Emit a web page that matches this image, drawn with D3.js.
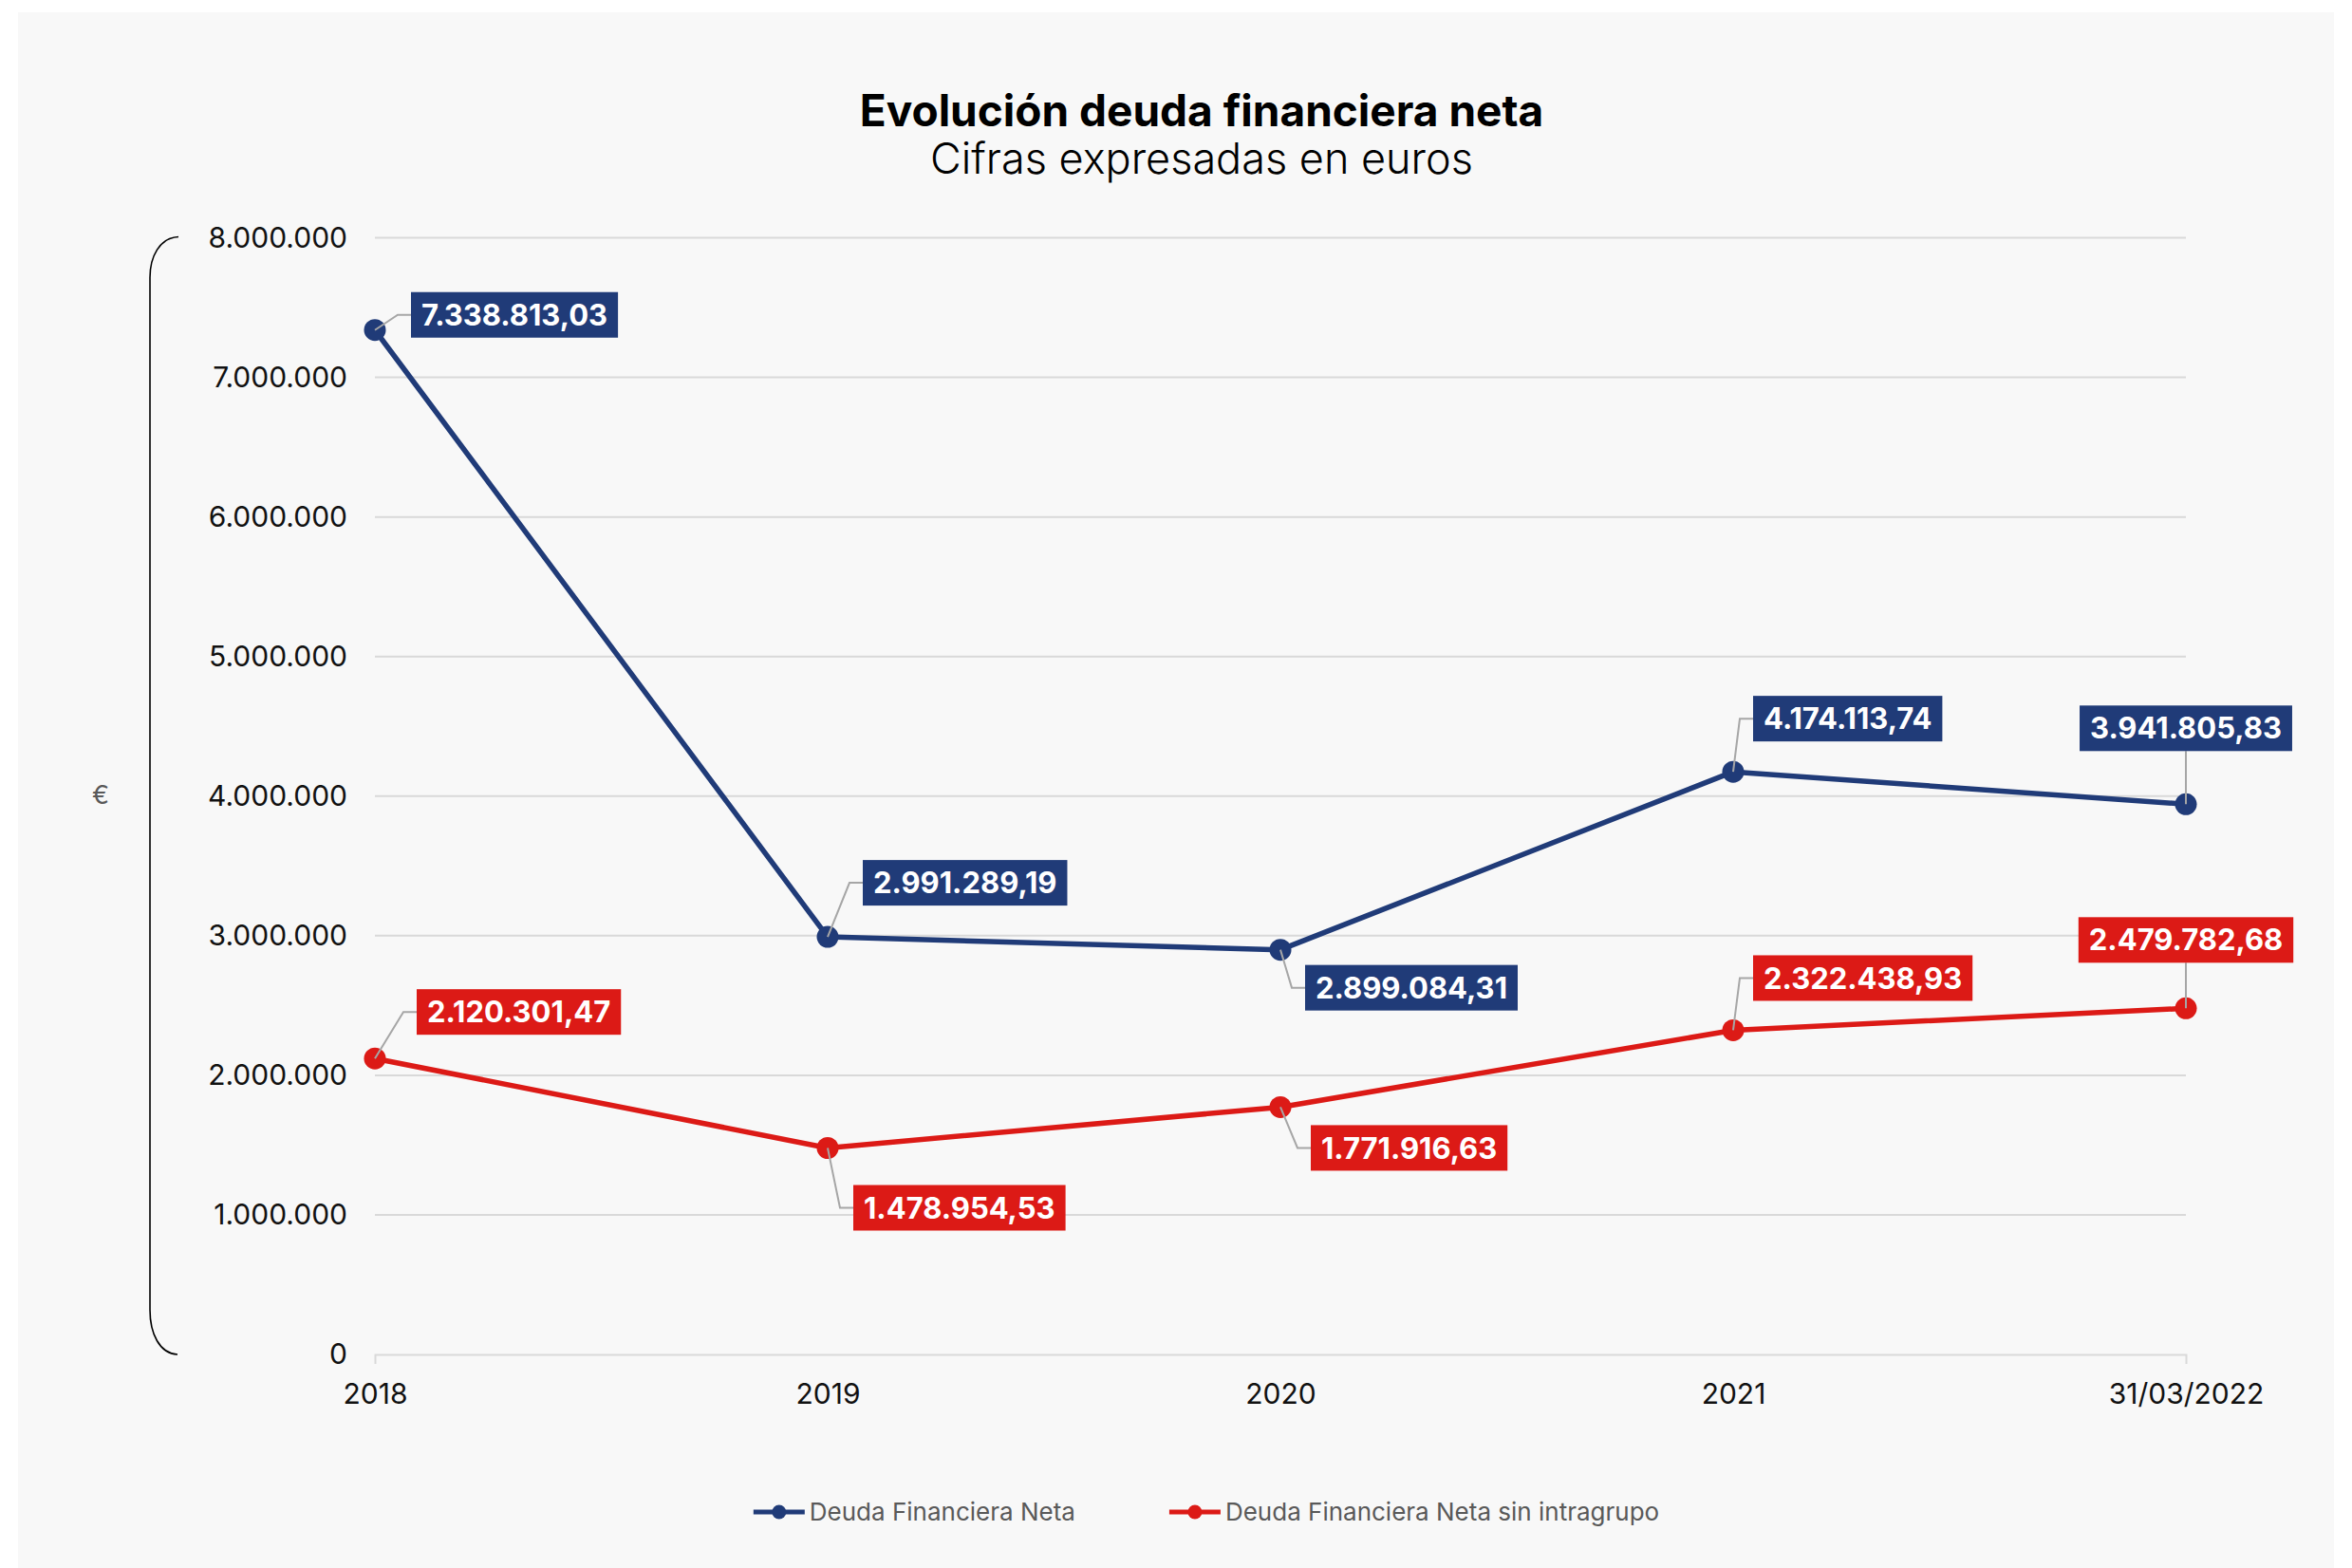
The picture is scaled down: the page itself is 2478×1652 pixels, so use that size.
<!DOCTYPE html>
<html>
<head>
<meta charset="utf-8">
<script src="https://cdn.jsdelivr.net/npm/d3@7"></script>
<style>
  html, body { margin: 0; padding: 0; background: #ffffff; }
  svg { display: block; font-family: Inter, "Open Sans", sans-serif; }
</style>
</head>
<body>
<svg class="mainSvg"></svg>
<script>
// eslint-disable-next-line
(function () {

  // ===========================================================================
  //     data area
  // ===========================================================================
  const categories = ['2018', '2019', '2020', '2021', '31/03/2022'];
  const deudaNeta = [7338813.03, 2991289.19, 2899084.31, 4174113.74, 3941805.83];
  const deudaSinIntragrupo = [2120301.47, 1478954.53, 1771916.63, 2322438.93, 2479782.68];
  const yTicks = [0, 1000000, 2000000, 3000000, 4000000, 5000000, 6000000, 7000000, 8000000];
  const seriesNames = ['Deuda Financiera Neta', 'Deuda Financiera Neta sin intragrupo'];

  const initWidth = 2478;
  const initHeight = 1652;
  const plot = { left: 395, right: 2303, top: 250.5, bottom: 1427 };
  const blue = '#203b78';
  const red = '#dc1a16';
  const gridColor = '#d9d9d9';
  const leaderColor = '#a6a6a6';
  const boxHeight = 48;
  const boxPad = 11;

  // label placement around each point (dx = box left from point, or centered above)
  const labelOffsets = [
    [{ dx: 38, dy: -16 }, { dx: 37, dy: -57 }, { dx: 26, dy: 40 }, { dx: 21, dy: -56 }, { center: true, dy: -80 }],
    [{ dx: 44, dy: -49 }, { dx: 27, dy: 63 }, { dx: 32, dy: 43 }, { dx: 21, dy: -55 }, { center: true, dy: -72 }],
  ];

  const esLocale = d3.formatLocale({
    decimal: ',', thousands: '.', grouping: [3], currency: ['', ' €'],
  });
  const fmtValue = esLocale.format(',.2f');
  const fmtTick = esLocale.format(',.0f');

  const series = [
    { name: seriesNames[0], values: deudaNeta, color: blue },
    { name: seriesNames[1], values: deudaSinIntragrupo, color: red },
  ];

  // ===========================================================================
  //      procedure
  // ===========================================================================
  const svg = d3.select('.mainSvg')
    .attr('width', initWidth)
    .attr('height', initHeight);

  svg.append('rect')
    .attr('x', 19)
    .attr('y', 13)
    .attr('width', 2440)
    .attr('height', initHeight - 13)
    .attr('fill', '#f8f8f8');

  const x = d3.scalePoint()
    .domain(categories)
    .range([plot.left, plot.right]);

  const y = d3.scaleLinear()
    .domain([0, d3.max(yTicks)])
    .range([plot.bottom, plot.top]);

  // titles
  svg.append('text')
    .attr('x', 1266)
    .attr('y', 133)
    .attr('text-anchor', 'middle')
    .attr('font-size', 46)
    .attr('font-weight', 700)
    .attr('fill', '#000')
    .text('Evolución deuda financiera neta');

  svg.append('text')
    .attr('x', 1266)
    .attr('y', 183)
    .attr('text-anchor', 'middle')
    .attr('font-size', 45)
    .attr('font-weight', 300)
    .attr('fill', '#000')
    .text('Cifras expresadas en euros');

  // ===========================================================================
  //      grid + axes
  // ===========================================================================
  svg.append('g')
    .selectAll('line')
    .data(yTicks.filter(d => d > 0))
    .enter()
    .append('line')
    .attr('x1', plot.left)
    .attr('x2', plot.right)
    .attr('y1', d => y(d))
    .attr('y2', d => y(d))
    .attr('stroke', gridColor)
    .attr('stroke-width', 2);

  const yAxis = svg.append('g')
    .attr('transform', `translate(${plot.left},0)`)
    .call(d3.axisLeft(y).tickValues(yTicks).tickFormat(fmtTick).tickSize(0).tickPadding(29));
  yAxis.select('.domain').remove();
  yAxis.selectAll('text')
    .attr('font-family', 'Inter, sans-serif')
    .attr('font-size', 30)
    .attr('fill', '#111');

  const xAxis = svg.append('g')
    .attr('transform', `translate(0,${plot.bottom})`)
    .call(d3.axisBottom(x).tickSizeInner(0).tickSizeOuter(10));
  xAxis.select('.domain')
    .attr('stroke', gridColor)
    .attr('stroke-width', 2);
  xAxis.selectAll('text')
    .attr('y', 52)
    .attr('dy', null)
    .attr('font-family', 'Inter, sans-serif')
    .attr('font-size', 30)
    .attr('fill', '#111');

  // bracket on the left and the unit
  svg.append('path')
    .attr('d', `M188,${plot.top - 1} C168,${plot.top} 158,${plot.top + 20} 158,${plot.top + 42}`
      + ` V${plot.bottom - 47} C158,${plot.bottom - 22} 168,${plot.bottom - 1} 187,${plot.bottom}`)
    .attr('fill', 'none')
    .attr('stroke', '#000')
    .attr('stroke-width', 1.6);

  svg.append('text')
    .attr('x', 106)
    .attr('y', 838)
    .attr('text-anchor', 'middle')
    .attr('dy', '0.35em')
    .attr('font-size', 27)
    .attr('fill', '#595959')
    .text('€');

  // ===========================================================================
  //      draw lines + markers
  // ===========================================================================
  const line = d3.line()
    .x((d, i) => x(categories[i]))
    .y(d => y(d));

  series.forEach(function (s) {
    svg.append('path')
      .attr('d', line(s.values))
      .attr('fill', 'none')
      .attr('stroke', s.color)
      .attr('stroke-width', 5.5)
      .attr('stroke-linejoin', 'round');
  });

  series.forEach(function (s) {
    svg.append('g')
      .selectAll('circle')
      .data(s.values)
      .enter()
      .append('circle')
      .attr('cx', (d, i) => x(categories[i]))
      .attr('cy', d => y(d))
      .attr('r', 11.5)
      .attr('fill', s.color);
  });

  // ===========================================================================
  //      data labels
  // ===========================================================================
  series.forEach(function (s, si) {
    s.values.forEach(function (v, i) {
      const px = x(categories[i]);
      const py = y(v);
      const off = labelOffsets[si][i];
      const g = svg.append('g');
      const leader = g.append('path')
        .attr('fill', 'none')
        .attr('stroke', leaderColor)
        .attr('stroke-width', 2);
      const box = g.append('rect').attr('fill', s.color);
      const txt = g.append('text')
        .attr('font-size', 31)
        .attr('font-weight', 700)
        .attr('fill', '#fff')
        .attr('dy', '0.36em')
        .text(fmtValue(v));
      const w = txt.node().getComputedTextLength() + boxPad * 2;
      const cy = py + off.dy;
      let left;
      if (off.center) {
        left = px - w / 2;
        leader.attr('d', `M${px},${py} V${cy + boxHeight / 2}`);
      } else {
        left = px + off.dx;
        leader.attr('d', `M${px},${py} L${left - 14},${cy} H${left}`);
      }
      box.attr('x', left)
        .attr('y', cy - boxHeight / 2)
        .attr('width', w)
        .attr('height', boxHeight);
      txt.attr('x', left + boxPad).attr('y', cy);
    });
  });

  // ===========================================================================
  //      legend
  // ===========================================================================
  const legend = svg.append('g');
  const legendY = 1593;
  const gap = 99;
  let cursor = 0;
  series.forEach(function (s) {
    const item = legend.append('g').attr('transform', `translate(${cursor},0)`);
    item.append('line')
      .attr('x1', 0).attr('x2', 54)
      .attr('y1', legendY).attr('y2', legendY)
      .attr('stroke', s.color)
      .attr('stroke-width', 5);
    item.append('circle')
      .attr('cx', 27).attr('cy', legendY).attr('r', 7.5)
      .attr('fill', s.color);
    const t = item.append('text')
      .attr('x', 59)
      .attr('y', legendY)
      .attr('dy', '0.36em')
      .attr('font-size', 26)
      .attr('fill', '#595959')
      .text(s.name);
    cursor += 59 + t.node().getComputedTextLength() + gap;
  });
  const legendWidth = cursor - gap;
  legend.attr('transform', `translate(${1271 - legendWidth / 2},0)`);
})();
</script>
</body>
</html>
